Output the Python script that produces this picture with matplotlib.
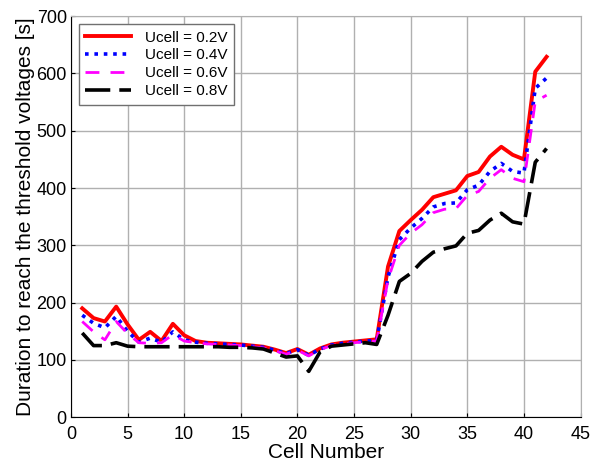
import matplotlib
matplotlib.use("Agg")
import matplotlib.pyplot as plt
import numpy as np

plt.rcParams['font.family'] = ['Liberation Sans', 'DejaVu Sans']

cells = np.arange(1, 43)

u02 = [190, 173, 167, 193, 162, 135, 149, 133, 163, 143,
       133, 130, 129, 128, 127, 125, 123, 118, 112, 119,
       109, 120, 127, 130, 132, 134, 136, 263, 325, 344,
       362, 384, 390, 396, 421, 428, 455, 472, 458, 450,
       603, 629]
u04 = [178, 164, 156, 176, 150, 131, 138, 131, 149, 135,
       131, 129, 128, 127, 126, 124, 122, 117, 111, 118,
       108, 119, 126, 129, 131, 133, 134, 245, 310, 330,
       347, 367, 373, 374, 397, 405, 429, 443, 429, 426,
       574, 592]
u06 = [167, 149, 135, 167, 146, 130, 129, 130, 144, 133,
       130, 128, 127, 126, 125, 123, 121, 116, 110, 117,
       107, 118, 125, 128, 130, 132, 133, 240, 300, 321,
       336, 357, 363, 364, 387, 394, 417, 432, 417, 411,
       551, 562]
u08 = [147, 125, 125, 130, 124, 123, 123, 123, 123, 123,
       123, 123, 123, 122, 122, 121, 119, 112, 105, 107,
       80, 114, 124, 126, 128, 130, 127, 178, 237, 251,
       272, 288, 294, 299, 321, 326, 344, 356, 341, 337,
       445, 469]

labels = ['Ucell = 0.2V', 'Ucell = 0.4V', 'Ucell = 0.6V', 'Ucell = 0.8V']

fig = plt.figure(figsize=(6.01, 4.61), dpi=100)
ax = fig.add_axes([0.118, 0.095, 0.848, 0.87])

ax.plot(cells, u02, color='#ff0000', lw=2.8, linestyle='-', label=labels[0])
ax.plot(cells, u04, color='#0000ff', lw=2.6, linestyle=(0, (1, 1.6)), label=labels[1])
ax.plot(cells, u06, color='#ff00ff', lw=2.0, linestyle=(0, (5, 4)), label=labels[2])
ax.plot(cells, u08, color='#000000', lw=2.6, linestyle=(0, (7, 2.5)), label=labels[3])

ax.set_xlim(0, 45)
ax.set_ylim(0, 700)
ax.set_xticks(range(0, 46, 5))
ax.set_yticks(range(0, 701, 100))
ax.grid(True, color='#b0b0b0', lw=1)
ax.tick_params(direction='in', labelsize=13, length=3)
ax.tick_params(axis='x', pad=6)
ax.tick_params(axis='y', pad=3)
for s in ['top', 'right']:
    ax.spines[s].set_color('#b0b0b0')

ax.set_xlabel('Cell Number', fontsize=15, labelpad=0)
ax.set_ylabel('Duration to reach the threshold voltages [s]', fontsize=15, labelpad=1)

leg = ax.legend(loc='upper left', fontsize=11, fancybox=False, framealpha=1,
                edgecolor='#707070', handlelength=3.0, handletextpad=0.9,
                labelspacing=0.25, borderpad=0.45, borderaxespad=0.5)
leg.get_frame().set_linewidth(1)

fig.savefig('out.png', dpi=100)
